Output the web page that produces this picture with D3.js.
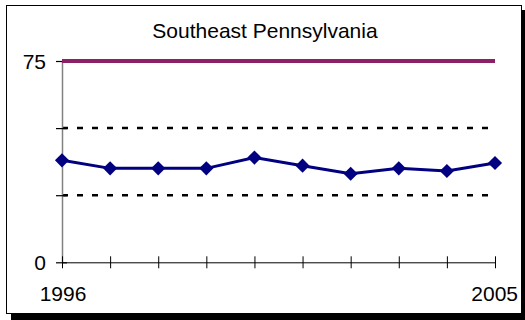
<!DOCTYPE html>
<html>
<head>
<meta charset="utf-8">
<script src="https://cdn.jsdelivr.net/npm/d3@7"></script>
<style>
  html, body { margin: 0; padding: 0; background: #fff; }
  svg { display: block; font-family: "Liberation Sans", Arial, sans-serif; }
</style>
</head>
<body>
<svg id="chart" width="525" height="320"></svg>
<script>
// Annual values for the region, 1996–2005
const years = [1996, 1997, 1998, 1999, 2000, 2001, 2002, 2003, 2004, 2005];
const values = [38, 35, 35, 35, 39, 36, 33, 35, 34, 37];
// Reference levels: standard (solid) and guide lines (dashed)
const standardLevel = [75];
const guideLevels = [25, 50];
const yTicks = [0, 25, 50, 75];
const yTickLabels = ["0", "", "", "75"];
const xTickLabels = ["1996", "2005"];
const title = "Southeast Pennsylvania";

const svg = d3.select("#chart");
const FONT = 21;

// Frame with drop shadow
svg.append("rect").attr("x", 11).attr("y", 10).attr("width", 514).attr("height", 310).attr("fill", "#000");
svg.append("rect").attr("x", 6.5).attr("y", 5.5).attr("width", 515).attr("height", 308)
  .attr("fill", "#fff").attr("stroke", "#000").attr("stroke-width", 1);

const x = d3.scalePoint().domain(years).range([62, 495]);
const y = d3.scaleLinear().domain([0, 75]).range([262.3, 61]);

// Title
svg.append("text").attr("x", 265).attr("y", 37.5).attr("text-anchor", "middle")
  .attr("font-size", FONT).attr("fill", "#000").text(title);

// Dashed guide lines
svg.selectAll(".guide").data(guideLevels).enter().append("line")
  .attr("x1", x(years[0])).attr("x2", x(years[years.length - 1]))
  .attr("y1", d => y(d)).attr("y2", d => y(d))
  .attr("stroke", "#000").attr("stroke-width", 2.5).attr("stroke-dasharray", "6,9");

// Y axis
const yAxis = d3.axisLeft(y).tickValues(yTicks).tickSize(0).tickFormat((d, i) => yTickLabels[i]);
const gy = svg.append("g").attr("transform", `translate(${x(years[0])},0)`).call(yAxis);
gy.select(".domain").attr("stroke", "#808080").attr("stroke-width", 1.5);
gy.selectAll(".tick text").attr("font-size", FONT).attr("fill", "#000").attr("x", -16).attr("dy", "0.35em")
  .attr("font-family", "Liberation Sans, Arial, sans-serif");
gy.selectAll(".tick").append("line").attr("x1", -6).attr("x2", 5).attr("stroke", "#000").attr("stroke-width", 1.2);

// X axis
const xAxis = d3.axisBottom(x).tickSize(0).tickFormat(() => "");
const gx = svg.append("g").attr("transform", `translate(0,${y(0)})`).call(xAxis);
gx.select(".domain").attr("stroke", "#000").attr("stroke-width", 1);
gx.selectAll(".tick").append("line").attr("y1", -6).attr("y2", 6).attr("stroke", "#000").attr("stroke-width", 1);

// End year labels
svg.append("text").attr("x", x(years[0]) + 1).attr("y", 301).attr("text-anchor", "middle")
  .attr("font-size", FONT).attr("fill", "#000").text(xTickLabels[0]);
svg.append("text").attr("x", 518).attr("y", 301).attr("text-anchor", "end")
  .attr("font-size", FONT).attr("fill", "#000").text(xTickLabels[1]);

// Standard line
svg.selectAll(".standard").data(standardLevel).enter().append("line")
  .attr("x1", x(years[0])).attr("x2", x(years[years.length - 1]))
  .attr("y1", d => y(d)).attr("y2", d => y(d))
  .attr("stroke", "#8B2067").attr("stroke-width", 4);

// Data series
const line = d3.line().x((d, i) => x(years[i])).y(d => y(d));
svg.append("path").datum(values).attr("d", line)
  .attr("fill", "none").attr("stroke", "#000080").attr("stroke-width", 3);

const diamond = d3.symbol().type(d3.symbolSquare).size(100);
svg.selectAll(".marker").data(values).enter().append("path")
  .attr("d", diamond)
  .attr("transform", (d, i) => `translate(${x(years[i])},${y(d)}) rotate(45)`)
  .attr("fill", "#000080");
</script>
</body>
</html>
